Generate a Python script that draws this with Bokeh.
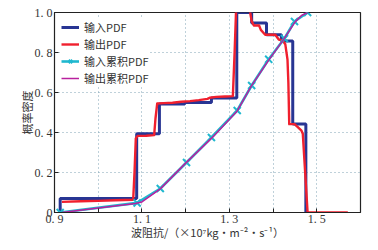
from bokeh.plotting import figure
from bokeh.models import Range1d, FixedTicker, Legend, LegendItem
from bokeh.embed import file_html
from bokeh.resources import INLINE

# ---- data ----
pdf_in_x = [0.913, 0.913, 1.088, 1.088, 1.140, 1.140, 1.198, 1.198, 1.259, 1.259,
            1.317, 1.317, 1.351, 1.351, 1.385, 1.385, 1.419, 1.419, 1.445, 1.445,
            1.475, 1.475]
pdf_in_y = [0.0, 0.070, 0.070, 0.394, 0.394, 0.543, 0.543, 0.550, 0.550, 0.572,
            0.572, 1.0, 1.0, 0.947, 0.947, 0.889, 0.889, 0.858, 0.858, 0.442,
            0.442, 0.0]

pdf_out_x = [0.917, 0.960, 1.000, 1.040, 1.080, 1.083, 1.086, 1.090, 1.110, 1.128,
             1.131, 1.135, 1.150, 1.170, 1.190, 1.210, 1.230, 1.250, 1.255, 1.270,
             1.290, 1.308, 1.312, 1.316, 1.320, 1.340, 1.346, 1.351, 1.356, 1.368,
             1.372, 1.382, 1.405, 1.413, 1.422, 1.428, 1.433, 1.435, 1.437, 1.449,
             1.456, 1.465, 1.468, 1.479, 1.520, 1.571]
pdf_out_y = [0.053, 0.056, 0.058, 0.061, 0.064, 0.20, 0.370, 0.383, 0.384, 0.387,
             0.470, 0.545, 0.547, 0.549, 0.554, 0.557, 0.562, 0.568, 0.574, 0.578,
             0.580, 0.582, 0.800, 1.050, 1.080, 1.080, 1.020, 0.957, 0.935, 0.935,
             0.913, 0.889, 0.889, 0.865, 0.860, 0.841, 0.764, 0.649, 0.442, 0.442,
             0.428, 0.409, 0.394, 0.0, 0.0, 0.0]

cdf_in_x = [0.913, 1.089, 1.142, 1.202, 1.259, 1.318, 1.351, 1.390, 1.426, 1.449, 1.479]
cdf_in_y = [0.0, 0.048, 0.120, 0.250, 0.375, 0.510, 0.635, 0.766, 0.870, 0.955, 1.0]

cdf_out_x = [0.917, 1.000, 1.085, 1.100, 1.142, 1.200, 1.260, 1.318, 1.350, 1.390,
             1.425, 1.450, 1.465, 1.479]
cdf_out_y = [0.0, 0.022, 0.045, 0.053, 0.118, 0.247, 0.373, 0.508, 0.632, 0.762,
             0.868, 0.952, 0.985, 1.0]

x_label_ticks = [0.9, 1.1, 1.3, 1.5]
x_minor_ticks = [1.0, 1.2, 1.4]
x_grid_ticks = [1.0, 1.1, 1.2, 1.3, 1.4, 1.5]
x_labels = {0.9: "0. 9", 1.1: "1. 1", 1.3: "1. 3", 1.5: "1. 5"}
y_ticks = [0.0, 0.2, 0.4, 0.6, 0.8, 1.0]
y_labels = {0.0: "0", 0.2: "0. 2", 0.4: "0. 4", 0.6: "0. 6", 0.8: "0. 8", 1.0: "1. 0"}

legend_labels = ["输入PDF", "输出PDF", "输入累积PDF", "输出累积PDF"]
x_title = "波阻抗/（×10⁷kg·m⁻²·s⁻¹）"
y_title = "概率密度"

# ---- figure ----
SERIF = "Liberation Serif"
CJK = "Noto Sans CJK SC"

p = figure(width=362, height=242, output_backend="svg", toolbar_location=None,
           x_range=Range1d(0.9, 1.6), y_range=Range1d(0.0, 1.0),
           min_border_left=54, min_border_right=2, min_border_top=12, min_border_bottom=10)
p.background_fill_color = "white"
p.border_fill_color = "white"
p.outline_line_color = "#222222"
p.outline_line_width = 1.2

for ax in (p.xaxis[0], p.yaxis[0]):
    ax.major_tick_in = 4
    ax.major_tick_out = 0
    ax.minor_tick_in = 4
    ax.minor_tick_out = 0
    ax.axis_line_color = "#222222"
    ax.major_tick_line_color = "#222222"
    ax.minor_tick_line_color = "#222222"
    ax.major_label_text_font = SERIF
    ax.major_label_text_font_size = "12px"
    ax.major_label_text_color = "#333333"
    ax.axis_label_text_font = CJK
    ax.axis_label_text_font_size = "11px"
    ax.axis_label_text_font_style = "normal"
    ax.axis_label_text_color = "#333333"

p.xaxis.ticker = FixedTicker(ticks=x_label_ticks, minor_ticks=x_minor_ticks)
p.xaxis.major_label_overrides = x_labels
p.xaxis.major_label_standoff = -1
p.xaxis.axis_label = x_title
p.xaxis.axis_label_standoff = -5

p.yaxis.ticker = FixedTicker(ticks=y_ticks)
p.yaxis.major_label_overrides = y_labels
p.yaxis.major_label_standoff = 2
p.yaxis.axis_label = y_title
p.yaxis.axis_label_standoff = -3

p.xgrid.ticker = FixedTicker(ticks=x_grid_ticks)
p.ygrid.ticker = FixedTicker(ticks=y_ticks)
for g in (p.xgrid[0], p.ygrid[0]):
    g.grid_line_color = "#7fa3b5"
    g.grid_line_dash = "1 3"
    g.grid_line_width = 1

# ---- series ----
r1 = p.line(pdf_in_x, pdf_in_y, line_color="#283593", line_width=3)
r2 = p.line(pdf_out_x, pdf_out_y, line_color="#f0202e", line_width=2.4, line_join="round")
r3 = p.line(cdf_in_x, cdf_in_y, line_color="#1fb8cf", line_width=2.6)
r3m = p.scatter(cdf_in_x, cdf_in_y, marker="x", size=10, line_color="#1fb8cf", line_width=2)
r4 = p.line(cdf_out_x, cdf_out_y, line_color="#b8209e", line_width=1.5)

legend = Legend(items=[
    LegendItem(label=legend_labels[0], renderers=[r1]),
    LegendItem(label=legend_labels[1], renderers=[r2]),
    LegendItem(label=legend_labels[2], renderers=[r3, r3m]),
    LegendItem(label=legend_labels[3], renderers=[r4]),
], location="top_left")
legend.label_text_font = CJK
legend.label_text_font_size = "11px"
legend.label_text_color = "#333333"
legend.label_height = 12
legend.glyph_height = 12
legend.glyph_width = 18
legend.label_standoff = 5
legend.spacing = 1
legend.padding = 2
legend.margin = 7
legend.border_line_color = None
legend.background_fill_color = "white"
legend.background_fill_alpha = 1.0
p.add_layout(legend)

open("out.html", "w").write(file_html(p, INLINE))
